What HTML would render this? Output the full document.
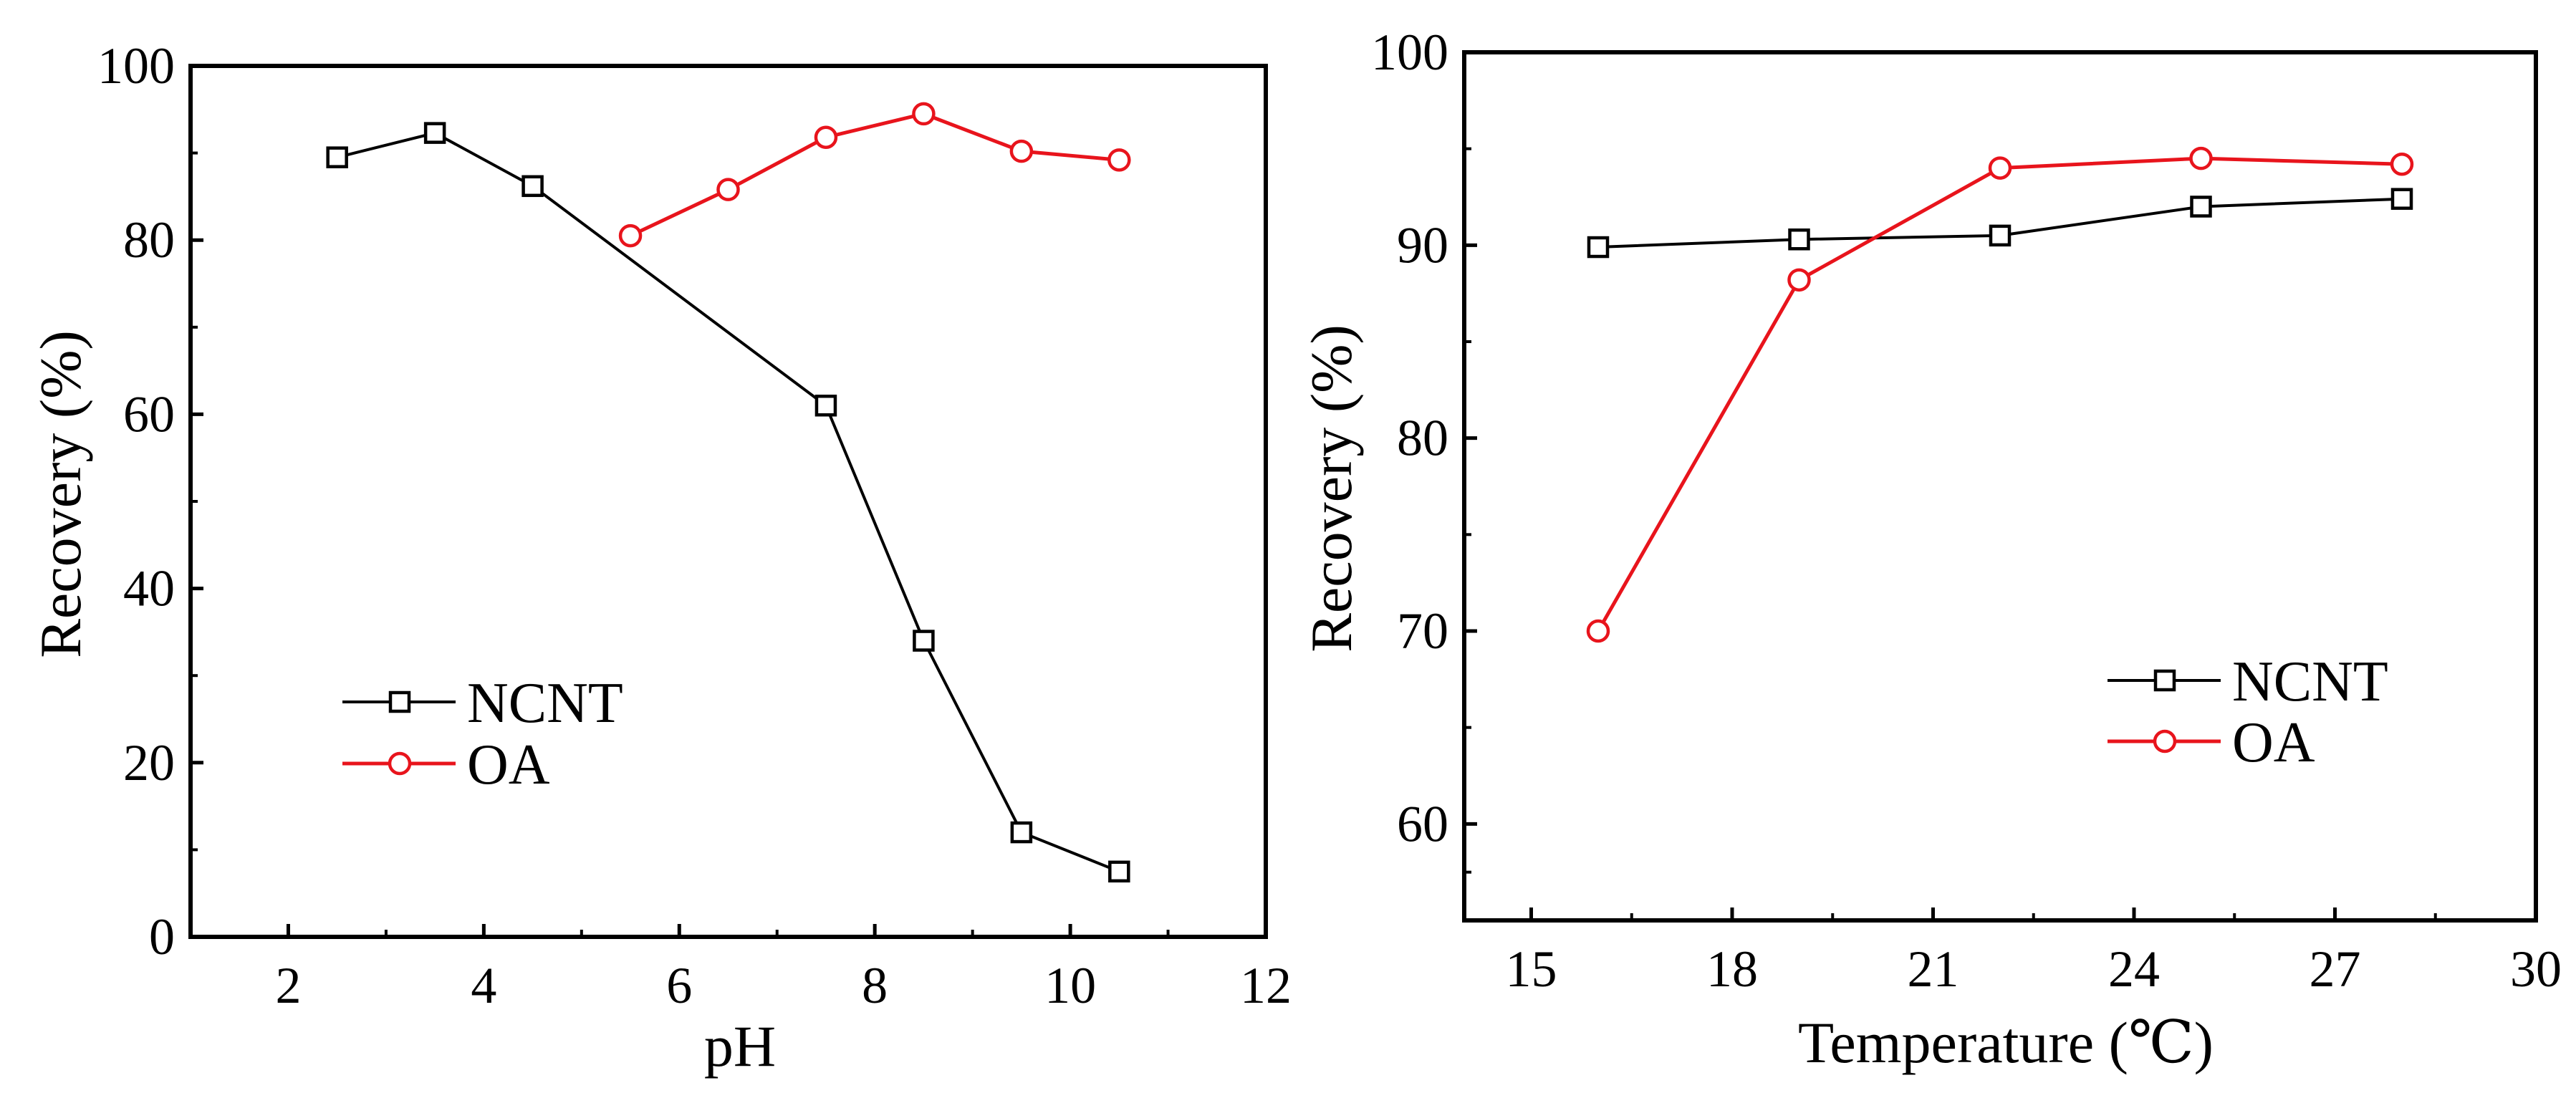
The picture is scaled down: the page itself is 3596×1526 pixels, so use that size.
<!DOCTYPE html>
<html><head><meta charset="utf-8"><style>
html,body{margin:0;padding:0;background:#fff}
svg{display:block}
text{font-family:"Liberation Serif","DejaVu Serif",serif;fill:#000}
</style></head><body>
<svg id="fig" width="3596" height="1526" viewBox="0 0 3596 1526" xmlns="http://www.w3.org/2000/svg"></svg>
<script>
// Left chart data (pH)
const phNcntX = [2.5, 3.5, 4.5, 7.5, 8.5, 9.5, 10.5];
const phNcntY = [89.5, 92.3, 86.2, 61, 34, 12, 7.5];
const phOaX = [5.5, 6.5, 7.5, 8.5, 9.5, 10.5];
const phOaY = [80.5, 85.8, 91.8, 94.5, 90.2, 89.2];
const phXTicks = [2, 4, 6, 8, 10, 12];
const phYTicks = [0, 20, 40, 60, 80, 100];
// Right chart data (Temperature)
const tNcntX = [16, 19, 22, 25, 28];
const tNcntY = [89.9, 90.3, 90.5, 92, 92.4];
const tOaX = [16, 19, 22, 25, 28];
const tOaY = [70, 88.2, 94, 94.5, 94.2];
const tXTicks = [15, 18, 21, 24, 27, 30];
const tYTicks = [60, 70, 80, 90, 100];

const NS = "http://www.w3.org/2000/svg";
const svg = document.getElementById('fig');
function mk(tag, attrs, parent) {
  const e = document.createElementNS(NS, tag);
  for (const k in attrs) e.setAttribute(k, attrs[k]);
  (parent || svg).appendChild(e);
  return e;
}

function chart(o) {
  const g = mk('g', {});
  
  
  const sx = v => o.L + (v - o.x0) / (o.x1 - o.x0) * (o.R - o.L);
  const sy = v => o.B - (v - o.y0) / (o.y1 - o.y0) * (o.B - o.T);
  o.xTicks.forEach(t => {
    const l = mk('line', {x1: sx(t), x2: sx(t), y1: o.B, y2: o.B - 18, stroke: '#000', 'stroke-width': 5}, g);
    
    
    const tx = mk('text', {x: sx(t), y: o.B + 92, 'font-size': 72, 'text-anchor': 'middle'}, g);
    tx.textContent = t;
    
    
  });
  for (let i = 0; i < o.xTicks.length - 1; i++) {
    const m = (o.xTicks[i] + o.xTicks[i + 1]) / 2;
    if (m <= o.x0 || m >= o.x1) continue;
    const l = mk('line', {x1: sx(m), x2: sx(m), y1: o.B, y2: o.B - 10, stroke: '#000', 'stroke-width': 4}, g);
    
    
  }
  o.yTicks.forEach(t => {
    const l = mk('line', {x1: o.L, x2: o.L + 18, y1: sy(t), y2: sy(t), stroke: '#000', 'stroke-width': 5}, g);
    
    
    const tx = mk('text', {x: o.L - 22, y: sy(t) + 24, 'font-size': 72, 'text-anchor': 'end'}, g);
    tx.textContent = t;
    
    
  });
  const ys = [o.y0].concat(o.yTicks);
  for (let i = 0; i < ys.length - 1; i++) {
    const m = (ys[i] + ys[i + 1]) / 2;
    if (m <= o.y0 || m >= o.y1) continue;
    const l = mk('line', {x1: o.L, x2: o.L + 10, y1: sy(m), y2: sy(m), stroke: '#000', 'stroke-width': 4}, g);
    
    
  }
  const fr = mk('rect', {x: o.L, y: o.T, width: o.R - o.L, height: o.B - o.T, fill: 'none', stroke: '#000', 'stroke-width': 6}, g);
  
  
  o.series.forEach(s => {
    const pts = s.x.map((v, i) => sx(v) + ',' + sy(s.y[i])).join(' ');
    const pl = mk('polyline', {points: pts, fill: 'none', stroke: s.color, 'stroke-width': s.w}, g);
    
    
    s.x.forEach((v, i) => {
      let m;
      if (s.shape === 'sq') m = mk('rect', {x: sx(v) - 13, y: sy(s.y[i]) - 13, width: 26, height: 26, fill: '#fff', stroke: s.color, 'stroke-width': 4.5}, g);
      else m = mk('circle', {cx: sx(v), cy: sy(s.y[i]), r: 14, fill: '#fff', stroke: s.color, 'stroke-width': 4.5}, g);
      
      
    });
  });
  o.series.forEach((s, i) => {
    const y = o.legY[i];
    const lg = mk('g', {}, g);
    
    
    mk('line', {x1: o.legX, x2: o.legX + 158, y1: y, y2: y, stroke: s.color, 'stroke-width': s.w}, lg);
    const cx = o.legX + 80;
    if (s.shape === 'sq') mk('rect', {x: cx - 13, y: y - 13, width: 26, height: 26, fill: '#fff', stroke: s.color, 'stroke-width': 4.5}, lg);
    else mk('circle', {cx: cx, cy: y, r: 14, fill: '#fff', stroke: s.color, 'stroke-width': 4.5}, lg);
    const t = mk('text', {x: o.legX + 174, y: y + 28, 'font-size': 80}, lg);
    t.textContent = s.label;
  });
  const xt = mk('text', {x: o.xtX, y: o.xtY, 'font-size': 82, 'text-anchor': 'middle'}, g);
  xt.textContent = o.xTitle;
  
  
  const yt = mk('text', {x: 0, y: 0, 'font-size': 82, 'text-anchor': 'middle', transform: 'translate(' + o.ytX + ',' + o.ytY + ') rotate(-90)'}, g);
  yt.textContent = 'Recovery (%)';
  
  
}

chart({name: 'ph-chart', L: 266, R: 1767, T: 92, B: 1308, x0: 1, x1: 12, y0: 0, y1: 100,
  xTicks: phXTicks, yTicks: phYTicks, xTitle: 'pH', xtX: 1033, xtY: 1488, ytX: 112, ytY: 690,
  legX: 478, legY: [980, 1066],
  series: [
    {key: 'ncnt', label: 'NCNT', x: phNcntX, y: phNcntY, color: '#000', shape: 'sq', w: 4},
    {key: 'oa', label: 'OA', x: phOaX, y: phOaY, color: '#e8141c', shape: 'ci', w: 5}
  ]});
chart({name: 'temperature-chart', L: 2044, R: 3540, T: 73, B: 1285, x0: 14, x1: 30, y0: 55, y1: 100,
  xTicks: tXTicks, yTicks: tYTicks, xTitle: 'Temperature (\u2103)', xtX: 2800, xtY: 1483, ytX: 1886, ytY: 682,
  legX: 2942, legY: [950, 1035],
  series: [
    {key: 'ncnt', label: 'NCNT', x: tNcntX, y: tNcntY, color: '#000', shape: 'sq', w: 4},
    {key: 'oa', label: 'OA', x: tOaX, y: tOaY, color: '#e8141c', shape: 'ci', w: 5}
  ]});
</script>
</body></html>
